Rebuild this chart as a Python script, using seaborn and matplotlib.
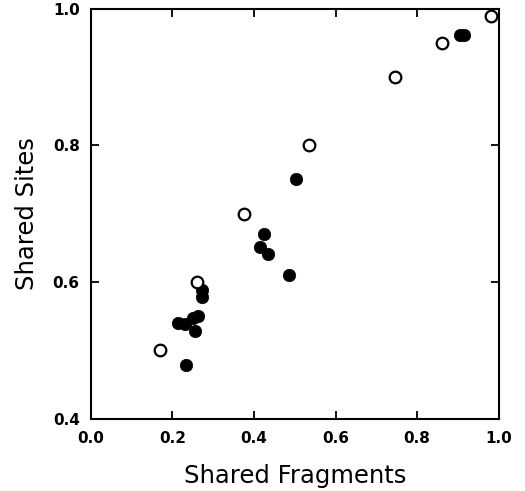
import matplotlib
matplotlib.use("Agg")
import matplotlib.pyplot as plt
import seaborn as sns
import pandas as pd

# Open circles
open_x = [0.17, 0.26, 0.375, 0.535, 0.745, 0.86, 0.98]
open_y = [0.50, 0.60, 0.70, 0.80, 0.90, 0.95, 0.99]

# Filled circles
filled_x = [0.234, 0.214, 0.232, 0.255, 0.251, 0.263, 0.273, 0.273,
            0.414, 0.424, 0.435, 0.485, 0.504, 0.905, 0.915]
filled_y = [0.479, 0.540, 0.539, 0.529, 0.548, 0.551, 0.579, 0.589,
            0.652, 0.670, 0.641, 0.610, 0.751, 0.961, 0.961]

xticks = [0.0, 0.2, 0.4, 0.6, 0.8, 1.0]
yticks = [0.4, 0.6, 0.8, 1.0]

sns.set_theme(style="white")
plt.rcParams['font.family'] = ['DejaVu Sans']

fig = plt.figure(figsize=(5.25, 4.91), dpi=100)
ax = fig.add_axes([0.173, 0.147, 0.777, 0.835])

df_open = pd.DataFrame({"x": open_x, "y": open_y})
df_filled = pd.DataFrame({"x": filled_x, "y": filled_y})

sns.scatterplot(data=df_filled, x="x", y="y", ax=ax, s=80, color="black",
                edgecolor="black", linewidth=0.5, zorder=3)
sns.scatterplot(data=df_open, x="x", y="y", ax=ax, s=70, facecolor="white",
                edgecolor="black", linewidth=1.6, zorder=4)

ax.set_xlim(0.0, 1.0)
ax.set_ylim(0.4, 1.0)
ax.set_xticks(xticks)
ax.set_yticks(yticks)
ax.set_xticklabels([f"{t:.1f}" for t in xticks], fontsize=11, fontweight="bold")
ax.set_yticklabels([f"{t:.1f}" for t in yticks], fontsize=11, fontweight="bold")
ax.tick_params(direction="in", length=6, width=1.3, top=True, right=True,
               bottom=True, left=True, colors="black")
ax.tick_params(axis="x", pad=9)
ax.tick_params(axis="y", pad=8)
for sp in ax.spines.values():
    sp.set_color("black")
    sp.set_linewidth(1.5)
ax.set_xlabel("Shared Fragments", fontsize=17.5, labelpad=13, color="black")
ax.set_ylabel("Shared Sites", fontsize=17.5, labelpad=10, color="black")
ax.grid(False)

fig.savefig("out.png", dpi=100)
